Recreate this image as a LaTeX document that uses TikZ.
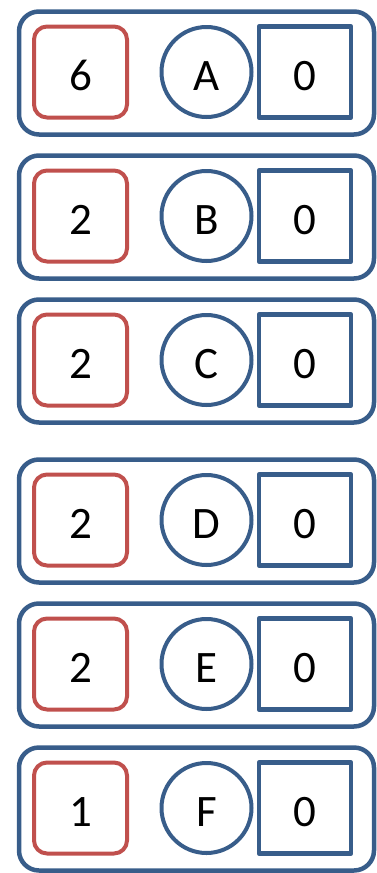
\documentclass[tikz,border=0pt]{standalone}
\usepackage{fontspec}
\setmainfont{Carlito}
\definecolor{frame}{HTML}{385D8A}
\definecolor{tally}{HTML}{C0504D}
\newcommand{\Glyph}{\fontsize{45}{50}\selectfont}

\begin{document}
\begin{tikzpicture}[x=1pt,y=-1pt, line join=round,
  rowbox/.style={draw=frame,line width=4.5pt,rounded corners=20pt,
    minimum width=355pt,minimum height=123pt},
  glyph/.style={font=\Glyph,text height=36pt,text depth=0pt,inner sep=0pt},
  tallybox/.style={glyph,draw=tally,line width=4pt,rounded corners=13pt,
    minimum width=93pt,minimum height=91pt},
  keydot/.style={glyph,draw=frame,circle,line width=4pt,minimum size=90pt},
  valbox/.style={glyph,draw=frame,line width=4.5pt,
    minimum width=92pt,minimum height=91pt}]

  \useasboundingbox (0,0) rectangle (376,873);

  % ---- one row per key: count, key, value -------------------------------
  \foreach \y/\k/\n in {72/A/6,216/B/2,360/C/2,520/D/2,664/E/2,808/F/1} {
    \node[rowbox]   (row-\k) at (196.5,\y+1) {};
    \node[tallybox] (cnt-\k) at (80.5,\y)  {\n};
    \node[keydot]   (key-\k) at (206.5,\y) {\k};
    \node[valbox]   (val-\k) at (305,\y)   {0};
  }

\end{tikzpicture}
\end{document}
